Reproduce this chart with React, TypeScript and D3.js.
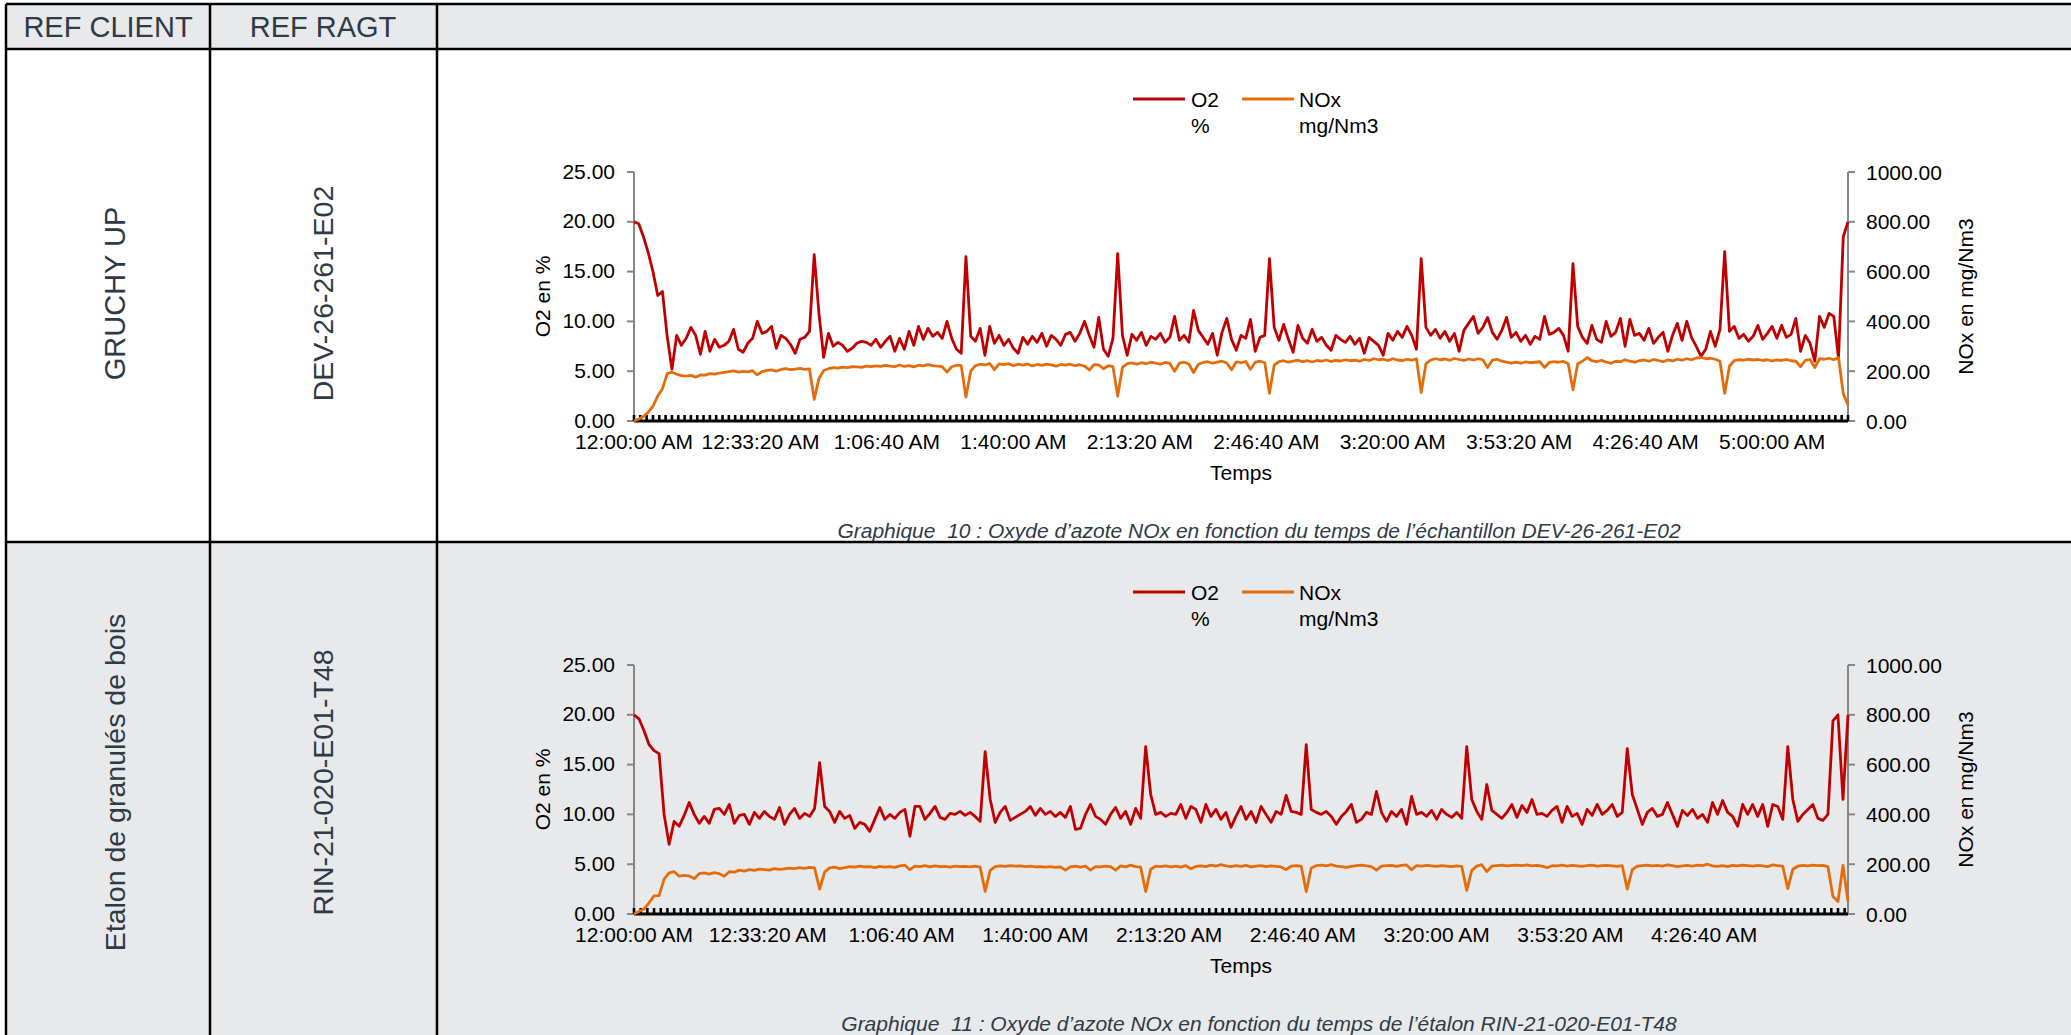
import React from "react";
import * as d3 from "d3";

// one sample every 75 s, starting at 12:00:00 AM
const STEP = 75;

const o2Dev = [
  20.0, 19.8, 18.5, 16.9, 15.0, 12.6, 13.0, 8.5, 5.2, 8.6, 7.6,
  8.3, 9.4, 8.6, 6.7, 9.0, 7.0, 8.2, 7.4, 7.6, 8.0,
  9.2, 7.2, 6.9, 7.8, 8.3, 10.0, 8.8, 9.0, 9.5, 7.3,
  8.6, 8.3, 7.7, 6.8, 8.2, 8.4, 9.0, 16.7, 10.8, 6.4,
  8.8, 7.5, 7.9, 7.6, 7.0, 7.3, 7.8, 8.0, 7.9, 7.6,
  8.2, 7.4, 8.0, 8.5, 7.0, 8.3, 7.2, 9.0, 7.6, 9.5,
  8.2, 9.3, 8.5, 8.9, 8.3, 10.0, 8.3, 7.2, 6.8, 16.5,
  8.5, 8.0, 9.3, 6.6, 9.5, 7.8, 8.6, 7.6, 8.2, 7.3,
  6.8, 8.4, 7.7, 8.5, 7.9, 8.8, 7.5, 8.6, 8.2, 7.6,
  8.7, 8.9, 8.0, 8.8, 10.0, 8.6, 7.4, 10.4, 7.2, 6.5,
  8.3, 16.8, 8.6, 6.6, 8.7, 8.1, 8.9, 7.6, 8.5, 8.2,
  8.8, 7.9, 8.4, 10.5, 8.1, 8.6, 7.9, 11.1, 9.1, 8.4,
  7.7, 8.8, 6.6, 8.9, 10.3, 8.2, 7.1, 8.6, 8.3, 10.2,
  7.0, 8.4, 8.6, 16.3, 9.4, 8.1, 9.7, 8.2, 6.9, 9.6,
  8.3, 7.8, 9.2, 8.0, 8.4, 7.6, 7.1, 8.6, 8.2, 7.9,
  8.5, 7.7, 8.3, 6.8, 8.4, 8.0, 7.6, 6.6, 8.8, 8.1,
  9.0, 8.4, 9.5, 8.6, 7.2, 16.3, 9.4, 8.6, 9.2, 8.3,
  9.0, 8.0, 8.8, 7.0, 9.1, 9.8, 10.5, 8.8, 9.4, 10.4,
  8.9, 8.2, 9.1, 10.4, 8.4, 8.9, 8.0, 8.6, 7.7, 8.5,
  8.2, 10.5, 8.7, 8.9, 9.3, 8.6, 7.0, 15.8, 9.5, 8.4,
  7.8, 9.6, 8.2, 7.9, 10.0, 8.5, 8.9, 10.3, 7.5, 10.2,
  8.6, 8.8, 8.1, 9.3, 7.8, 8.4, 8.9, 7.0, 8.6, 9.8,
  8.1, 10.0, 8.4, 7.5, 6.5, 7.2, 9.0, 7.5, 9.2, 17.0,
  9.0, 9.5, 8.3, 8.7, 8.0, 8.5, 9.6, 8.2, 8.8, 9.5,
  8.3, 9.6, 8.4, 8.7, 10.3, 7.0, 8.6, 7.8, 6.0, 10.5,
  9.4, 10.8, 10.5, 6.3, 18.5, 20.0,
];

const noxDev = [
  0, 8, 18, 35, 60, 100, 130, 190, 196, 188, 182,
  180, 183, 176, 185, 184, 190, 188, 192, 195, 198,
  201, 196, 199, 197, 202, 185, 198, 203, 205, 200,
  207, 210, 206, 208, 211, 207, 209, 87, 170, 203,
  210, 214, 212, 216, 214, 218, 217, 215, 220, 218,
  221, 219, 223, 220, 218, 225, 219, 222, 217, 224,
  221, 226, 222, 220, 218, 196, 218, 224, 222, 96,
  200, 222, 228, 225, 231, 206, 229, 226, 230, 222,
  228, 224, 229, 221, 227, 223, 228, 225, 220, 227,
  224, 228, 222, 226, 220, 205, 226, 225, 210, 222,
  218, 100, 215, 230, 233, 228, 234, 230, 236, 232,
  228, 235, 231, 200, 232, 236, 229, 195, 228, 235,
  238, 232, 236, 240, 233, 206, 237, 234, 239, 208,
  236, 240, 235, 111, 225, 238, 242, 236, 240, 244,
  238, 242, 237, 243, 240, 245, 239, 243, 241, 246,
  242, 244, 240, 247, 243, 250, 246, 248, 243, 250,
  245, 242, 248, 244, 250, 114, 230, 245, 250, 246,
  249, 244, 251, 247, 243, 249, 245, 250, 246, 215,
  244, 248, 240, 236, 232, 236, 232, 237, 234, 236,
  238, 215, 235, 238, 236, 239, 230, 125, 230, 240,
  255, 242, 238, 244, 236, 232, 240, 238, 246, 240,
  236, 242, 245, 240, 247, 243, 238, 245, 241, 248,
  244, 250, 246, 253, 255, 250, 252, 248, 240, 111,
  220, 242, 246, 244, 248, 245, 247, 243, 246, 241,
  245, 243, 247, 242, 240, 218, 243, 247, 215, 250,
  248, 252, 246, 255, 110, 64,
];

const o2Rin = [
  20.0, 19.6, 18.4, 17.0, 16.4, 16.1, 10.0, 7.0, 9.3, 8.8, 9.9,
  11.2, 10.0, 9.1, 9.8, 9.1, 10.5, 10.6, 10.0, 11.0, 9.1,
  9.9, 10.0, 9.0, 10.2, 9.6, 10.3, 9.8, 9.5, 10.7, 9.0,
  10.0, 10.6, 9.6, 10.1, 9.8, 10.6, 15.2, 10.8, 10.3, 9.2,
  10.3, 9.6, 9.9, 8.6, 9.2, 9.0, 8.3, 9.5, 10.7, 9.5,
  10.0, 9.6, 10.2, 10.5, 7.8, 10.8, 10.8, 9.5, 10.1, 10.8,
  9.7, 9.5, 10.1, 10.0, 10.3, 9.9, 10.2, 9.8, 9.3, 16.3,
  11.5, 9.2, 10.2, 10.8, 9.4, 9.7, 10.0, 10.3, 10.8, 9.9,
  10.6, 10.0, 10.3, 9.8, 10.2, 9.7, 10.8, 8.5, 8.6, 10.0,
  11.0, 9.8, 9.5, 9.0, 10.0, 10.7, 9.6, 10.3, 9.0, 10.6,
  9.6, 16.8, 12.0, 10.0, 10.2, 9.8, 10.1, 10.0, 11.0, 9.6,
  10.8, 10.5, 9.2, 11.0, 9.8, 10.5, 9.5, 10.2, 8.7, 9.8,
  10.8, 9.5, 10.3, 9.2, 10.8, 10.0, 9.2, 10.3, 10.0, 11.9,
  10.3, 10.2, 10.0, 17.0, 10.5, 10.2, 10.0, 10.3, 9.8, 9.0,
  9.8, 10.3, 11.0, 9.2, 9.5, 10.2, 10.0, 12.3, 10.2, 9.3,
  10.3, 9.8, 10.5, 9.0, 11.8, 10.0, 10.2, 9.8, 10.4, 9.5,
  10.5, 10.0, 9.7, 10.2, 9.6, 16.8, 11.5, 10.3, 9.5, 13.0,
  10.4, 10.0, 9.6, 10.2, 11.0, 9.7, 10.9, 10.2, 11.5, 10.0,
  10.1, 9.8, 10.4, 10.8, 9.2, 10.8, 9.8, 10.1, 9.0, 10.5,
  9.9, 11.0, 10.0, 10.4, 11.0, 9.8, 10.2, 16.6, 12.0, 10.5,
  9.0, 10.2, 10.6, 9.8, 10.0, 11.2, 10.0, 8.8, 10.4, 9.9,
  10.5, 9.6, 10.0, 9.2, 11.2, 10.0, 11.4, 10.2, 9.8, 8.8,
  11.0, 10.0, 11.0, 9.8, 11.0, 8.8, 11.0, 10.8, 9.5, 16.8,
  11.5, 9.3, 10.0, 10.5, 11.0, 9.6, 9.4, 10.0, 19.4, 20.0,
  11.5, 20.0,
];

const noxRin = [
  0, 10, 20, 45, 73, 74, 140, 165, 170, 152, 155,
  153, 142, 162, 165, 160, 166, 162, 152, 170, 168,
  176, 172, 178, 175, 180, 178, 176, 182, 179, 181,
  184, 182, 186, 183, 187, 185, 100, 168, 185, 188,
  182, 186, 190, 188, 192, 189, 190, 186, 191, 188,
  190, 187, 193, 196, 178, 192, 190, 194, 189, 193,
  190, 191, 188, 192, 190, 191, 189, 192, 188, 90,
  175, 190, 193, 191, 194, 192, 193, 190, 192, 189,
  190, 188, 190, 187, 189, 176, 189, 192, 188, 192,
  176, 190, 189, 192, 190, 176, 193, 189, 196, 190,
  188, 90, 180, 192, 190, 193, 189, 192, 188, 194,
  182, 191, 193, 190, 196, 192, 198, 193, 190, 194,
  191, 195, 189, 192, 194, 190, 193, 191, 189, 178,
  192, 194, 192, 90, 185, 194, 196, 193, 198, 192,
  190, 187, 191, 194, 196, 193, 190, 176, 192, 194,
  195, 191, 195, 197, 178, 194, 192, 195, 193, 191,
  194, 192, 190, 193, 191, 95, 175, 192, 198, 170,
  192, 194, 196, 193, 195, 196, 194, 197, 193, 195,
  192, 186, 194, 193, 196, 192, 195, 193, 191, 194,
  196, 192, 194, 195, 193, 191, 194, 100, 178, 192,
  194, 196, 193, 195, 192, 197, 194, 190, 193, 195,
  192, 196, 194, 200, 193, 191, 194, 190, 195, 193,
  196, 194, 192, 195, 193, 190, 197, 194, 192, 102,
  180, 192, 195, 193, 196, 194, 195, 190, 70, 50,
  195, 50,
];

const timeLabels = [
  "12:00:00 AM", "12:33:20 AM", "1:06:40 AM", "1:40:00 AM", "2:13:20 AM",
  "2:46:40 AM", "3:20:00 AM", "3:53:20 AM", "4:26:40 AM", "5:00:00 AM",
];
const o2Ticks = [0, 5, 10, 15, 20, 25];
const noxTicks = [0, 200, 400, 600, 800, 1000];

const FONT = "'Liberation Sans', Arial, sans-serif";
const RED = "#C00000";
const ORANGE = "#E46C0A";
const GREY_BG = "#E8E9EB";
const TABLE_TXT = "#2E3A46";
const ROW_H = 493;

function Chart({ top, o2, nox, nLabels, caption }) {
  const left = 634, right = 1848, yTop = 172, yBot = 421;
  const tEnd = (o2.length - 1) * STEP;
  const x = d3.scaleLinear().domain([0, tEnd]).range([left, right]);
  const yL = d3.scaleLinear().domain([0, 25]).range([yBot, yTop]);
  const yR = d3.scaleLinear().domain([0, 1000]).range([yBot, yTop]);
  const fmt = d3.format(".2f");

  const lineO2 = d3.line<number>().x((d, i) => x(i * STEP)).y(d => yL(d));
  const lineNox = d3.line<number>().x((d, i) => x(i * STEP)).y(d => yR(d));
  const minorTicks = d3.range(0, tEnd + 1, 100);
  const labels = timeLabels.slice(0, nLabels);

  return (
    <g transform={`translate(0,${top})`} fontFamily={FONT}>
      {/* legend */}
      <line x1={1133} x2={1185} y1={99} y2={99} stroke={RED} strokeWidth={3} />
      <text x={1191} y={99} fontSize={21} dominantBaseline="central">O2</text>
      <text x={1191} y={125} fontSize={21} dominantBaseline="central">%</text>
      <line x1={1242} x2={1294} y1={99} y2={99} stroke={ORANGE} strokeWidth={3} />
      <text x={1299} y={99} fontSize={21} dominantBaseline="central">NOx</text>
      <text x={1299} y={125} fontSize={21} dominantBaseline="central">mg/Nm3</text>

      {/* left axis */}
      <line x1={left} x2={left} y1={yTop} y2={yBot} stroke="#868686" strokeWidth={2} />
      {o2Ticks.map(t => (
        <g key={"l" + t}>
          <line x1={left - 7} x2={left} y1={yL(t)} y2={yL(t)} stroke="#868686" strokeWidth={2} />
          <text x={615} y={yL(t) - 1} fontSize={21} textAnchor="end" dominantBaseline="central">{fmt(t)}</text>
        </g>
      ))}
      <text transform={`translate(542,${(yTop + yBot) / 2}) rotate(-90)`} fontSize={21}
        textAnchor="middle" dominantBaseline="central">O2 en %</text>

      {/* right axis */}
      <line x1={right} x2={right} y1={yTop} y2={yBot} stroke="#868686" strokeWidth={2} />
      {noxTicks.map(t => (
        <g key={"r" + t}>
          <line x1={right} x2={right + 7} y1={yR(t)} y2={yR(t)} stroke="#868686" strokeWidth={2} />
          <text x={1866} y={yR(t)} fontSize={21} dominantBaseline="central">{fmt(t)}</text>
        </g>
      ))}
      <text transform={`translate(1965,${(yTop + yBot) / 2}) rotate(-90)`} fontSize={21}
        textAnchor="middle" dominantBaseline="central">NOx en mg/Nm3</text>

      {/* time axis */}
      <line x1={left} x2={right} y1={yBot} y2={yBot} stroke="#000" strokeWidth={3} />
      {minorTicks.map(t => (
        <line key={"m" + t} x1={x(t)} x2={x(t)} y1={yBot} y2={yBot - 6} stroke="#000" strokeWidth={2.6} />
      ))}
      {labels.map((s, k) => (
        <text key={s} x={x(k * 2000)} y={441} fontSize={21} textAnchor="middle" dominantBaseline="central">{s}</text>
      ))}
      <text x={(left + right) / 2} y={472} fontSize={21} textAnchor="middle" dominantBaseline="central">Temps</text>

      {/* series */}
      <path d={lineO2(o2)} fill="none" stroke={RED} strokeWidth={2.8} strokeLinejoin="round" />
      <path d={lineNox(nox)} fill="none" stroke={ORANGE} strokeWidth={2.8} strokeLinejoin="round" />

      <text x={1259} y={530} fontSize={21} fontStyle="italic" fill={TABLE_TXT} textAnchor="middle"
        dominantBaseline="central">{caption}</text>
    </g>
  );
}

export default function App() {
  const W = 2071, H = 1035;
  const colX = [6, 210, 437];
  const rowTop = [49, 49 + ROW_H];
  return (
    <svg width={W} height={H} style={{ position: "absolute", left: 0, top: 0 }}>
      <rect x={0} y={0} width={W} height={H} fill="#fff" />
      <rect x={colX[0]} y={4} width={W} height={45} fill={GREY_BG} />
      <rect x={colX[0]} y={rowTop[1]} width={W} height={H - rowTop[1]} fill={GREY_BG} />

      <g fontFamily={FONT} fill={TABLE_TXT}>
        <text x={108} y={27} fontSize={29} textAnchor="middle" dominantBaseline="central">REF CLIENT</text>
        <text x={323} y={27} fontSize={29} textAnchor="middle" dominantBaseline="central">REF RAGT</text>
        <text transform={`translate(115,${rowTop[0] + ROW_H / 2 - 2}) rotate(-90)`} fontSize={29} textAnchor="middle" dominantBaseline="central">GRUCHY UP</text>
        <text transform={`translate(323,${rowTop[0] + ROW_H / 2 - 2}) rotate(-90)`} fontSize={28.5} textAnchor="middle" dominantBaseline="central">DEV-26-261-E02</text>
        <text transform={`translate(115,${rowTop[1] + ROW_H / 2 - 6}) rotate(-90)`} fontSize={28.5} textAnchor="middle" dominantBaseline="central">Etalon de granulés de bois</text>
        <text transform={`translate(323,${rowTop[1] + ROW_H / 2 - 6}) rotate(-90)`} fontSize={28.5} textAnchor="middle" dominantBaseline="central">RIN-21-020-E01-T48</text>
      </g>

      <Chart top={0} o2={o2Dev} nox={noxDev} nLabels={10}
        caption={"Graphique\u00A0\u00A010 : Oxyde d’azote NOx en fonction du temps de l’échantillon DEV-26-261-E02"} />
      <Chart top={ROW_H} o2={o2Rin} nox={noxRin} nLabels={9}
        caption={"Graphique\u00A0\u00A011 : Oxyde d’azote NOx en fonction du temps de l’étalon RIN-21-020-E01-T48"} />

      {/* table grid */}
      <g stroke="#000" strokeWidth={2.5}>
        <line x1={colX[0]} x2={W} y1={4} y2={4} />
        <line x1={colX[0]} x2={W} y1={rowTop[0]} y2={rowTop[0]} />
        <line x1={colX[0]} x2={W} y1={rowTop[1]} y2={rowTop[1]} />
        {colX.map(c => <line key={c} x1={c} x2={c} y1={4} y2={H} />)}
      </g>
    </svg>
  );
}
